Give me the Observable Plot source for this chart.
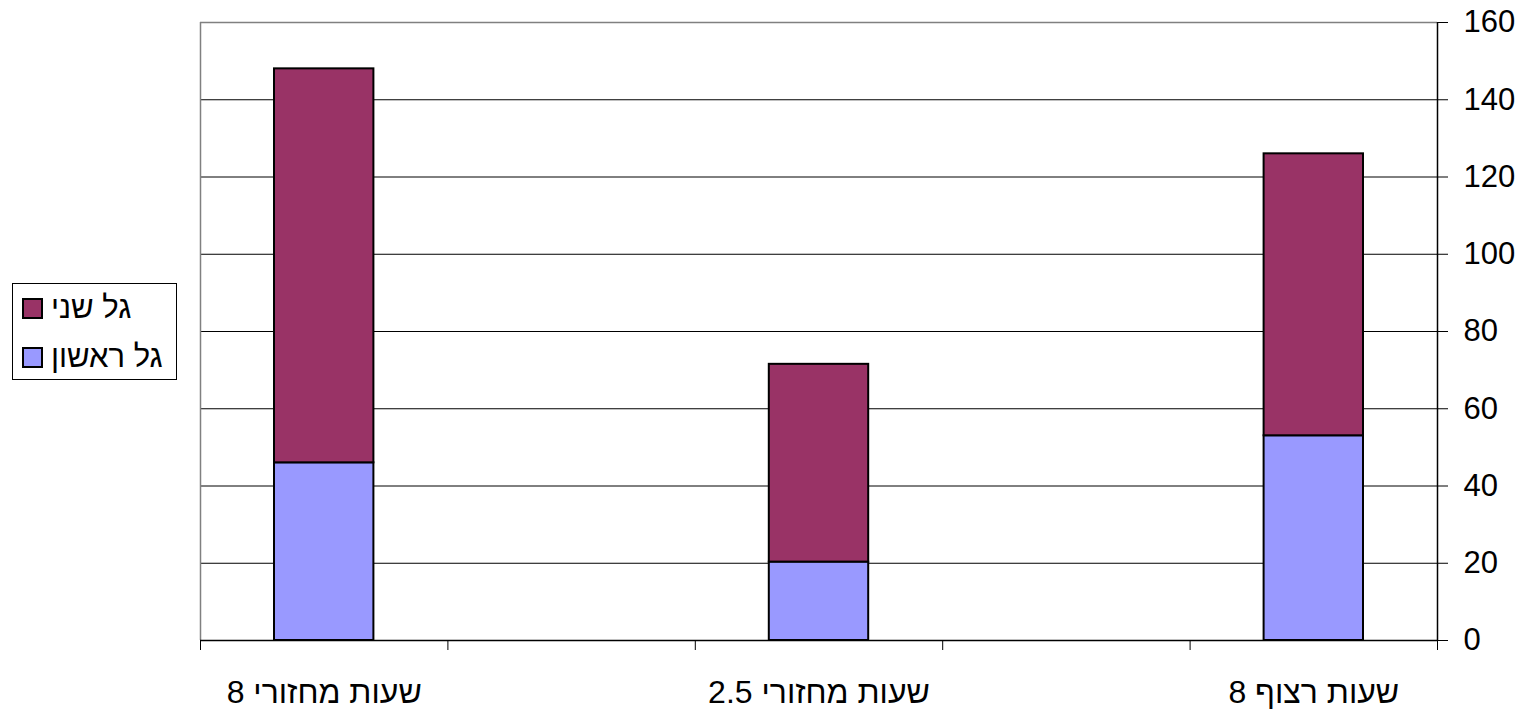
<!DOCTYPE html>
<html>
<head>
<meta charset="utf-8">
<script src="https://cdn.jsdelivr.net/npm/d3@7"></script>
<script src="https://cdn.jsdelivr.net/npm/@observablehq/plot@0.6"></script>
<style>
  html, body { margin: 0; padding: 0; background: #fff; }
  #wrap { position: relative; width: 1539px; height: 712px; font-family: "Liberation Sans", Arial, sans-serif; }
  #legend { position: absolute; left: 12px; top: 283px; width: 165px; height: 97px; border: 1px solid #000; background: #fff; box-sizing: border-box; }
  .row { position: absolute; left: 9px; display: flex; align-items: center; font-size: 31px; color: #000; white-space: nowrap; }
  .sw { width: 17px; height: 17px; border: 2px solid #000; margin-right: 8px; }
</style>
</head>
<body>
<div id="wrap"></div>
<script>
// Data
const categories = ["8 שעות מחזורי", "2.5 שעות מחזורי", "8 שעות רצוף"];
const seriesNames = ["גל ראשון", "גל שני"];
const firstWave = [46, 20.3, 53];
const secondWave = [102, 51.2, 73];
const yTicks = [0, 20, 40, 60, 80, 100, 120, 140, 160];
const colors = ["#9999FF", "#993366"];

// Chart has 5 category slots; categories occupy every other slot
const nSlots = categories.length * 2 - 1;
const rows = [];
categories.forEach((c, i) => {
  const vals = [firstWave[i], secondWave[i]];
  let base = 0;
  vals.forEach((v, k) => {
    rows.push({cat: c, slot: i * 2, series: seriesNames[k], y1: base, y2: base + v});
    base += v;
  });
});
const labels = categories.map((c, i) => ({cat: c, pos: i * 2 + 0.5}));
const boundaries = d3.range(nSlots + 1);

const chart = Plot.plot({
  width: 1539,
  height: 712,
  marginLeft: 200,
  marginRight: 102,
  marginTop: 22,
  marginBottom: 72,
  style: {fontFamily: "'Liberation Sans', Arial, sans-serif", fontSize: "31px", background: "#fff", color: "#000"},
  x: {type: "linear", domain: [0, nSlots], axis: null},
  y: {domain: [0, 160], axis: null},
  color: {domain: seriesNames, range: colors},
  marks: [
    Plot.ruleY(yTicks.filter(t => t > 0 && t < 160), {stroke: "#000", strokeWidth: 1}),
    Plot.ruleY([160], {stroke: "#808080", strokeWidth: 1.5}),
    Plot.ruleX([0], {stroke: "#808080", strokeWidth: 1.5}),
    Plot.rectY(rows, {
      x1: "slot", x2: d => d.slot + 1, y1: "y1", y2: "y2",
      fill: "series", stroke: "#000", strokeWidth: 2,
      insetLeft: 74, insetRight: 74
    }),
    Plot.ruleY([0], {stroke: "#000", strokeWidth: 1.5}),
    Plot.ruleX([nSlots], {stroke: "#000", strokeWidth: 1.5}),
    Plot.axisX({ticks: boundaries, tickSize: 10, tickFormat: () => "", stroke: "#000"}),
    Plot.axisY({anchor: "right", ticks: yTicks, tickSize: 10, tickPadding: 16, fontSize: 31, tickFormat: d => String(d), stroke: "#000", fill: "#000"}),
    Plot.text(labels, {x: "pos", y: 0, text: "cat", dy: 52, fontSize: 32, fill: "#000"})
  ]
});

const wrap = document.getElementById("wrap");
wrap.appendChild(chart);

const legend = document.createElement("div");
legend.id = "legend";
const legendOrder = [seriesNames[1], seriesNames[0]];
const legendColors = [colors[1], colors[0]];
legendOrder.forEach((name, i) => {
  const row = document.createElement("div");
  row.className = "row";
  row.style.top = (i === 0 ? 6 : 55) + "px";
  const sw = document.createElement("div");
  sw.className = "sw";
  sw.style.background = legendColors[i];
  const t = document.createElement("span");
  t.textContent = name;
  row.appendChild(sw);
  row.appendChild(t);
  legend.appendChild(row);
});
wrap.appendChild(legend);
</script>
</body>
</html>
